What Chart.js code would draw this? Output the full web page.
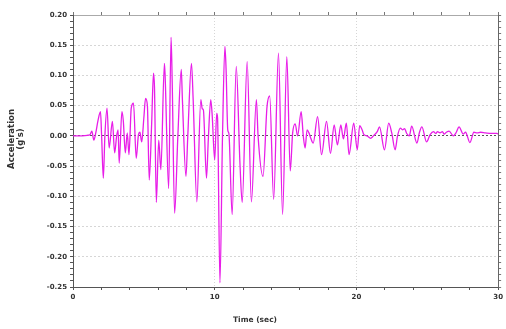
<!DOCTYPE html>
<html>
<head>
<meta charset="utf-8">
<script src="https://cdn.jsdelivr.net/npm/chart.js@4.4.1/dist/chart.umd.min.js"></script>
<style>
  body { margin: 0; background: #fff; }
  canvas { display: block; }
</style>
</head>
<body>
<canvas id="accel_chart" width="506" height="329"></canvas>
<script>
// time (sec) of each read-off point of the record
var timeSec = [
  0, 0.5, 1.0, 1.2, 1.33, 1.47, 1.6, 1.77, 1.94, 2.02, 2.14, 2.25, 2.4, 2.55, 2.78, 2.94,
  3.08, 3.18, 3.26, 3.45, 3.55, 3.69, 3.83, 3.95, 4.11, 4.27, 4.46, 4.62, 4.72, 4.85, 5.0,
  5.12, 5.25, 5.38, 5.55, 5.68, 5.75, 5.88, 6.05, 6.2, 6.45, 6.5, 6.75, 6.92, 7.0, 7.17,
  7.4, 7.64, 7.72, 7.97, 8.1, 8.36, 8.48, 8.74, 9.02, 9.12, 9.2, 9.42, 9.55, 9.72, 9.82,
  10.0, 10.14, 10.2, 10.37, 10.55, 10.72, 10.8, 10.92, 11.0, 11.23, 11.52, 11.78, 11.94,
  12.29, 12.59, 12.94, 13.06, 13.41, 13.69, 13.88, 14.16, 14.5, 14.79, 15.09, 15.33, 15.5,
  15.68, 15.85, 16.1, 16.25, 16.38, 16.52, 16.65, 16.78, 16.95, 17.26, 17.54, 17.89, 18.17,
  18.43, 18.66, 18.9, 19.08, 19.29, 19.48, 19.81, 20.06, 20.23, 20.4, 20.53, 20.75, 21.0,
  21.2, 21.47, 21.63, 21.98, 22.28, 22.5, 22.73, 22.9, 23.1, 23.25, 23.4, 23.55, 23.73, 23.9,
  24.27, 24.45, 24.62, 24.95, 25.2, 25.44, 25.6, 25.72, 25.9, 26.07, 26.19, 26.35, 26.54,
  26.84, 27.05, 27.24, 27.54, 27.7, 28.01, 28.29, 28.52, 28.76, 29.1, 29.5, 29.92, 30.0
];
// acceleration (g's) at those times
var accelG = [
  0, 0, 0.001, 0.002, 0.008, -0.007, 0.004, 0.026, 0.04, 0.0, -0.07, 0.0, 0.046, -0.02, 0.024, -0.028,
  0.0, 0.01, -0.045, 0.04, 0.025, -0.028, 0.005, -0.031, 0.046, 0.054, -0.037, 0.002, 0.006, -0.01, 0.03,
  0.062, 0.05, -0.073, 0.02, 0.104, 0.08, -0.11, -0.007, -0.056, 0.12, 0.1, -0.087, 0.163, 0.09, -0.128,
  0.0, 0.11, 0.06, -0.067, 0.0, 0.12, 0.06, -0.109, 0.06, 0.045, 0.043, -0.07, -0.005, 0.06, 0.035,
  -0.04, 0.037, 0.03, -0.243, 0.0, 0.148, 0.112, 0.01, 0.004, -0.13, 0.115, -0.045, -0.11,
  0.123, -0.109, 0.06, 0.0, -0.067, 0.048, 0.066, -0.105, 0.137, -0.13, 0.131, -0.058, 0.005,
  0.02, 0.0, 0.04, 0.0, -0.02, 0.01, 0.005, -0.004, -0.012, 0.032, -0.031, 0.024, -0.029,
  0.018, -0.015, 0.018, -0.005, 0.021, -0.031, 0.021, -0.023, 0.017, 0.01, 0.002, 0.0, -0.004,
  0.0, 0.007, 0.015, -0.023, 0.021, 0.004, -0.023, 0.0, 0.013, 0.01, 0.012, 0.004, 0.0, 0.016,
  -0.012, 0.006, 0.015, -0.01, 0.002, 0.007, 0.004, 0.007, 0.005, 0.007, 0.003, 0.006, 0.008,
  0.0, 0.006, 0.015, 0.003, 0.006, -0.011, 0.006, 0.005, 0.006, 0.005, 0.004, 0.004, 0.003
];

var xMin = 0, xMax = 30, xStep = 2, xLabelEvery = 10;
var yMin = -0.25, yMax = 0.20, yStep = 0.01, yLabelEvery = 0.05;

var points = [];
for (var i = 0; i < timeSec.length; i++) {
    points.push({x: timeSec[i], y: accelG[i]});
}

var txt = '#333';
var gridGrey = '#d6d6d6';
var tickFont = {family: 'DejaVu Sans', size: 7, weight: 'bold'};

function isXLabel(v) { return Math.round(v) % xLabelEvery == 0; }
function isYMajor(v) { return Math.round(v * 100) % Math.round(yLabelEvery * 100) == 0; }

// axis titles sit off-centre in the original, so they are drawn by hand
var axisTitles = {
    id: 'axisTitles',
    afterDraw: function(chart) {
        var c = chart.ctx;
        c.save();
        c.fillStyle = txt;
        c.textAlign = 'center';
        c.textBaseline = 'middle';
        c.font = 'bold 7.5px "DejaVu Sans"';
        c.fillText('Time (sec)', 255, 320);
        c.translate(16, 139);
        c.rotate(-Math.PI / 2);
        c.font = 'bold 8.5px "DejaVu Sans"';
        c.fillText('Acceleration', 0, -4);
        c.fillText("(g's)", 0, 5);
        c.restore();
    }
};

var ctx = document.getElementById('accel_chart').getContext('2d');
new Chart(ctx, {
    type: 'line',
    data: {
        datasets: [{
            label: 'Acceleration',
            data: points,
            borderColor: '#e81ee8',
            borderWidth: 1.3,
            pointRadius: 0,
            cubicInterpolationMode: 'monotone',
            fill: false
        }]
    },
    options: {
        responsive: false,
        animation: false,
        devicePixelRatio: 1,
        layout: {padding: 0},
        plugins: {legend: {display: false}, tooltip: {enabled: false}},
        scales: {
            x: {
                type: 'linear', position: 'bottom',
                min: xMin, max: xMax,
                afterFit: function(s) { s.height = 42; },
                ticks: {
                    stepSize: xStep, autoSkip: false, maxRotation: 0, padding: 3,
                    color: txt, font: tickFont,
                    callback: function(v) { return isXLabel(v) ? String(v) : ''; }
                },
                grid: {
                    color: function(c) {
                        var v = c.tick ? c.tick.value : 0;
                        return (v > xMin && v < xMax && isXLabel(v)) ? gridGrey : 'rgba(0,0,0,0)';
                    },
                    tickColor: '#555', tickLength: 3, lineWidth: 1
                },
                border: {display: true, color: '#555', width: 1, dash: [1, 2]}
            },
            x2: {
                type: 'linear', position: 'top', axis: 'x',
                min: xMin, max: xMax,
                afterFit: function(s) { s.height = 15; },
                ticks: {stepSize: xStep, autoSkip: false, padding: 0, font: {size: 1},
                        callback: function() { return ''; }},
                grid: {drawOnChartArea: false, tickColor: '#777', tickLength: 3},
                border: {display: true, color: '#aaa', width: 1}
            },
            y: {
                type: 'linear', position: 'left',
                min: yMin, max: yMax,
                afterFit: function(s) { s.width = 73; },
                ticks: {
                    stepSize: yStep, autoSkip: false, padding: 3,
                    color: txt, font: tickFont,
                    callback: function(v) { return isYMajor(v) ? v.toFixed(2) : ''; }
                },
                grid: {
                    color: function(c) {
                        var v = c.tick ? c.tick.value : 0;
                        if (v <= yMin + 0.001 || v >= yMax - 0.001) return 'rgba(0,0,0,0)';
                        if (Math.abs(v) < 0.001) return '#555';
                        return isYMajor(v) ? gridGrey : 'rgba(0,0,0,0)';
                    },
                    tickColor: '#555', tickLength: 3, lineWidth: 1
                },
                border: {display: true, color: '#555', width: 1, dash: [2, 2]}
            },
            y2: {
                type: 'linear', position: 'right', axis: 'y',
                min: yMin, max: yMax,
                afterFit: function(s) { s.width = 5; },
                ticks: {stepSize: yStep, autoSkip: false, padding: 0, font: {size: 1},
                        callback: function() { return ''; }},
                grid: {drawOnChartArea: false, tickColor: '#777', tickLength: 3},
                border: {display: true, color: '#666', width: 1}
            }
        }
    },
    plugins: [axisTitles]
});
</script>
</body>
</html>
